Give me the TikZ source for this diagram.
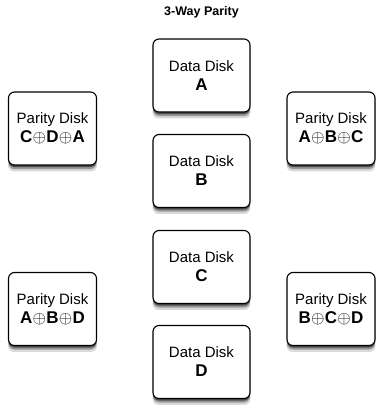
\documentclass[tikz,border=0pt]{standalone}
\usepackage{fontspec}
\setmainfont{Liberation Sans}
\usetikzlibrary{shadows, % soft shadow under each disk
               }
\tikzstyle{disk} = [rectangle, rounded corners=6pt, draw=black, line width=1.1pt,
                    fill=white, minimum width=97pt, minimum height=73pt, inner sep=0pt,
                    align=center, font=\fontsize{15}{19}\selectfont,
                    drop shadow={shadow xshift=0pt, shadow yshift=-6pt, shadow scale=1.01, opacity=0.15, fill=black},
                    drop shadow={shadow xshift=0pt, shadow yshift=-4pt, opacity=0.3, fill=black},
                    drop shadow={shadow xshift=0pt, shadow yshift=-2pt, opacity=0.5, fill=black}]
\tikzstyle{parity} = [disk, minimum width=88pt]
\tikzstyle{title} = [font=\bfseries\fontsize{12.5}{14}\selectfont]
\newcommand{\drive}[1]{{\bfseries\fontsize{17}{19}\selectfont #1}}
\newcommand{\xo}{\kern0.3pt$\oplus$\kern0.3pt}

\begin{document}
\begin{tikzpicture}[x=1pt, y=-1pt]
  \useasboundingbox (0, 0) rectangle (381, 408);
  \node (t) [title] at (201.5, 12) {3-Way Parity};

  \node (dA) [disk] at (201.5, 75.5) {Data Disk\\\drive{A}};
  \node (dB) [disk] at (201.5, 171) {Data Disk\\\drive{B}};
  \node (dC) [disk] at (201.5, 267) {Data Disk\\\drive{C}};
  \node (dD) [disk] at (201.5, 362) {Data Disk\\\drive{D}};

  \node (pCDA) [parity] at (52.5, 128.5) {Parity Disk\\\drive{C\xo D\xo A}};
  \node (pABC) [parity] at (331, 128.5) {Parity Disk\\\drive{A\xo B\xo C}};
  \node (pABD) [parity] at (52.5, 309) {Parity Disk\\\drive{A\xo B\xo D}};
  \node (pBCD) [parity] at (331, 309) {Parity Disk\\\drive{B\xo C\xo D}};
\end{tikzpicture}
\end{document}
